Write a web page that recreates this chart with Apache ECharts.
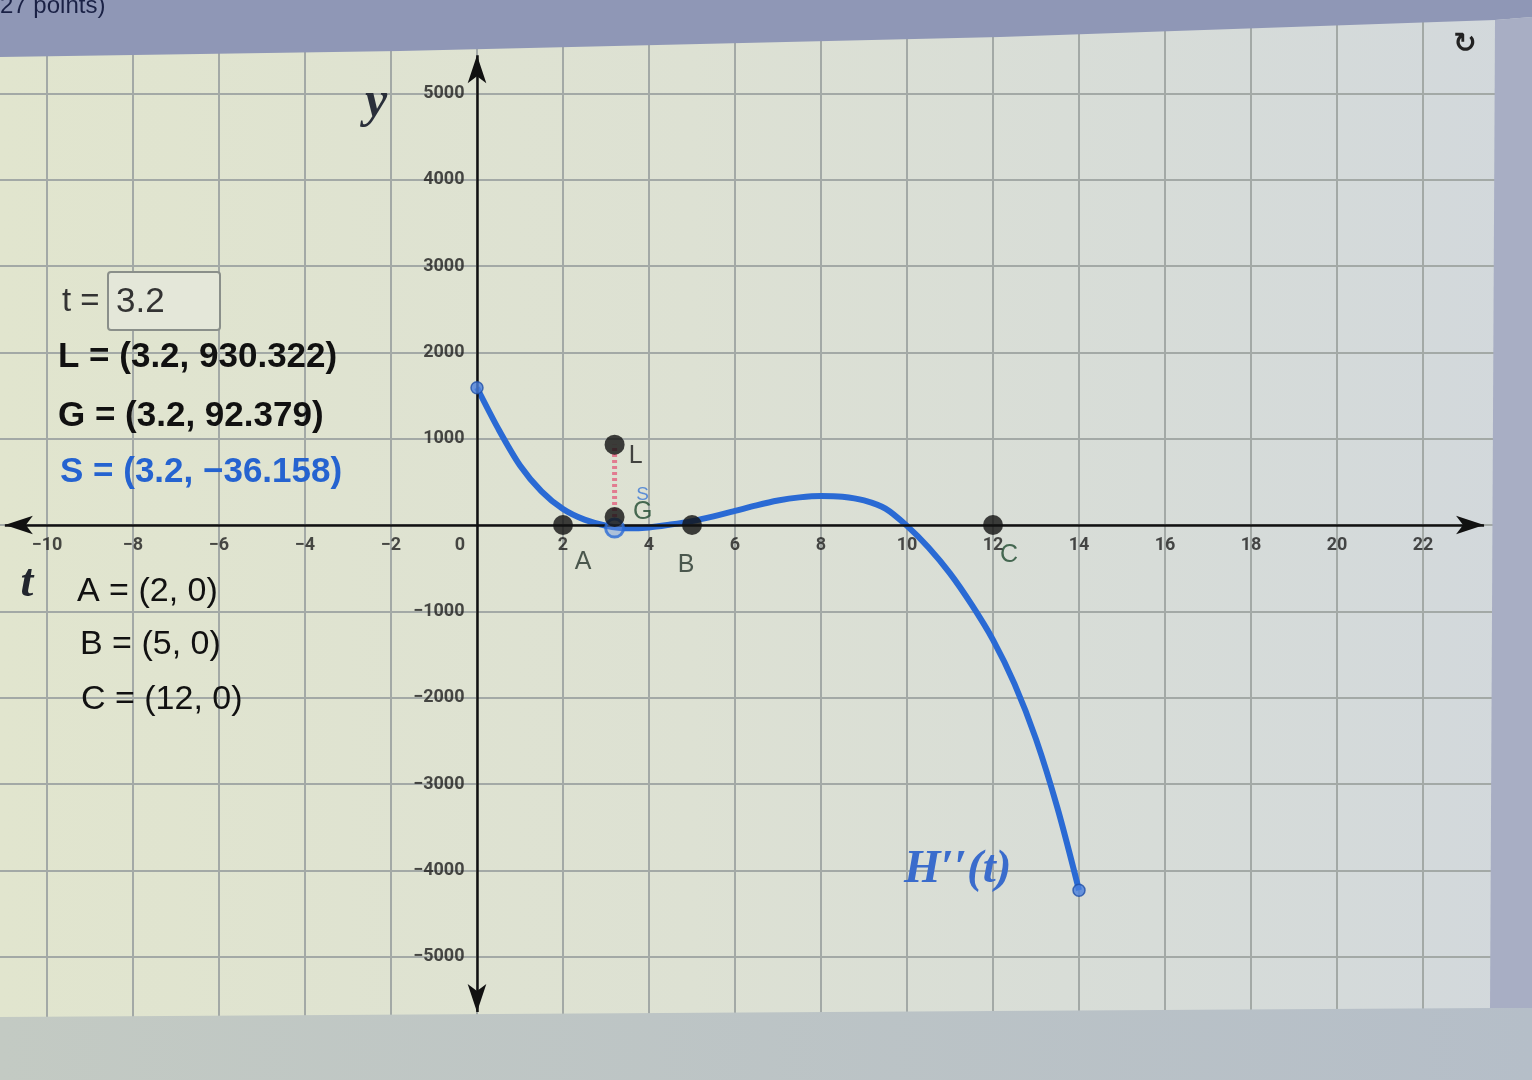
<!DOCTYPE html>
<html>
<head>
<meta charset="utf-8">
<script src="https://cdn.jsdelivr.net/npm/echarts@6/dist/echarts.min.js"></script>
<style>
html,body{margin:0;padding:0;background:#b9c1c6;}
#c{width:1532px;height:1080px;}
</style>
</head>
<body>
<div id="c"></div>
<script>
// ---------- data ----------
const xTickMin = -12, xTickMax = 24, xTickStep = 2;
const yTickMin = -6000, yTickMax = 6000, yTickStep = 1000;

const xTickLabels = [-10, -8, -6, -4, -2, 0, 2, 4, 6, 8, 10, 12, 14, 16, 18, 20, 22];
const yTickLabels = [-5000, -4000, -3000, -2000, -1000, 1000, 2000, 3000, 4000, 5000];

const curveT = [0, 0.5, 1, 1.5, 2, 2.5, 3, 3.5, 4, 4.5, 5, 5.5, 6, 6.5, 7, 7.5, 8, 8.5, 9, 9.5, 10, 10.5, 11, 11.5, 12, 12.5, 13, 13.5, 14];
const curveY = [1590, 1110, 690, 390, 185, 62, -8, -38, -28, 5, 45, 100, 163, 228, 283, 320, 337, 328, 285, 190, -10, -260, -560, -920, -1330, -1840, -2480, -3280, -4230];

const pointNames = ['A', 'B', 'C'];
const pointT = [2, 5, 12];
const pointY = [0, 0, 0];

const sliderT = 3.2;
const valueL = 930.322;
const valueG = 92.379;
const valueS = -36.158;

const axisExtentT = [-10.98, 23.42];
const axisExtentY = [-5640, 5440];

// ---------- helpers ----------
const minus = v => (v < 0 ? '\u2212' + Math.abs(v) : String(v));
const sans = '"Liberation Sans", Arial, sans-serif';
const serif = '"Liberation Serif", "DejaVu Serif", serif';
const tickFont = 'Roboto, "Liberation Sans", sans-serif';

const labelOffsets = { A: [20, 37], B: [-6, 40], C: [16, 30], L: [21, 11], G: [28, -5], S: [28, -33] };
const labelColors = { A: '#26342c', B: '#26342c', C: '#1f4a30', L: '#1a1a1a', G: '#1f4a30', S: '#3b78d6' };

const blackPts = pointNames.map((n, i) => ({ name: n, value: [pointT[i], pointY[i]] }))
  .concat([{ name: 'L', value: [sliderT, valueL] }, { name: 'G', value: [sliderT, valueG] }])
  .map(d => Object.assign(d, { label: { offset: labelOffsets[d.name], color: labelColors[d.name] } }));

const curveData = curveT.map((t, i) => [t, curveY[i]]);
const endPts = [curveData[0], curveData[curveData.length - 1]];

const xTickData = xTickLabels.map(v => ({ value: [v, 0], name: minus(v), label: v === 0 ? { offset: [-17, 0] } : {} }));
const yTickData = yTickLabels.map(v => ({ value: [0, v], name: minus(v) }));

const tickLabelStyle = { show: true, formatter: '{b}', fontSize: 18, fontWeight: 'bold', fontFamily: tickFont, color: '#1e1e1e' };

const chart = echarts.init(document.getElementById('c'), null, { renderer: 'canvas' });

const option = {
  animation: false,
  backgroundColor: {
    type: 'linear', x: 0, y: 0, x2: 1, y2: 0,
    colorStops: [
      { offset: 0, color: '#e1e5ce' },
      { offset: 0.45, color: '#dde1d3' },
      { offset: 1, color: '#d2d8dc' }
    ]
  },
  grid: { left: -39, right: 23, top: 7, bottom: 37, containLabel: false, outerBoundsMode: 'none' },
  xAxis: {
    type: 'value', min: xTickMin, max: xTickMax, interval: xTickStep,
    axisLine: { show: false },
    axisTick: { show: false },
    axisLabel: { show: false },
    splitLine: { show: true, lineStyle: { color: '#a3a9a6', width: 2 } }
  },
  yAxis: {
    type: 'value', min: yTickMin, max: yTickMax, interval: yTickStep,
    axisLine: { show: false },
    axisTick: { show: false },
    axisLabel: { show: false },
    splitLine: { show: true, lineStyle: { color: '#a3a9a6', width: 2 } }
  },
  series: [
    {
      type: 'line', data: [], z: 1, silent: true,
      markLine: {
        silent: true, animation: false,
        symbol: ['arrow', 'arrow'], symbolSize: [14, 28],
        label: { show: false },
        lineStyle: { color: '#111', width: 2.5, type: 'solid' },
        emphasis: { disabled: true },
        data: [
          [{ coord: [axisExtentT[0], 0] }, { coord: [axisExtentT[1], 0] }],
          [{ coord: [0, axisExtentY[0]] }, { coord: [0, axisExtentY[1]] }]
        ]
      }
    },
    {
      type: 'scatter', data: xTickData, symbol: 'circle', symbolSize: 1, z: 2, silent: true,
      itemStyle: { color: 'rgba(0,0,0,0)' },
      label: Object.assign({ position: 'bottom', distance: 11 }, tickLabelStyle)
    },
    {
      type: 'scatter', data: yTickData, symbol: 'circle', symbolSize: 1, z: 2, silent: true,
      itemStyle: { color: 'rgba(0,0,0,0)' },
      label: Object.assign({ position: 'left', distance: 12 }, tickLabelStyle)
    },
    {
      type: 'line', data: curveData, smooth: 0.3, symbol: 'none', z: 3, silent: true,
      lineStyle: { color: '#2a6ad4', width: 6 }
    },
    {
      type: 'line', data: [[sliderT, valueG], [sliderT, valueL]], symbol: 'none', z: 4, silent: true,
      lineStyle: { color: '#e27b90', width: 5, type: [3, 3] }
    },
    {
      type: 'scatter', data: [{ name: 'S', value: [sliderT, valueS], label: { offset: labelOffsets.S, color: labelColors.S } }],
      symbolSize: 18, z: 5, silent: true,
      itemStyle: { color: 'rgba(110,150,225,0.55)', borderColor: '#2a6ad4', borderWidth: 3 },
      label: { show: true, position: 'inside', formatter: '{b}', fontSize: 19, fontFamily: sans }
    },
    {
      type: 'scatter', data: blackPts, symbolSize: 20, z: 6, silent: true,
      itemStyle: { color: '#111' },
      label: { show: true, position: 'inside', formatter: '{b}', fontSize: 25, fontFamily: sans }
    },
    {
      type: 'scatter', data: endPts, symbolSize: 12, z: 6, silent: true,
      itemStyle: { color: '#4a80dd', borderColor: '#1f4fa8', borderWidth: 1.5 }
    }
  ],
  graphic: [
    // bezel / screen frame
    { type: 'polygon', z: 100, silent: true, shape: { points: [[0, 0], [1532, 0], [1532, 17], [1495, 20], [1000, 37], [400, 51], [0, 57]] }, style: { fill: '#8f97b6' } },
    { type: 'polygon', z: 100, silent: true, shape: { points: [[1495, 20], [1532, 17], [1532, 1010], [1490, 1009]] }, style: { fill: '#a8aec4' } },
    { type: 'polygon', z: 100, silent: true, shape: { points: [[0, 1017], [1490, 1008], [1532, 1008], [1532, 1080], [0, 1080]] },
      style: { fill: { type: 'linear', x: 0, y: 0, x2: 1, y2: 0, colorStops: [{ offset: 0, color: '#c3cac3' }, { offset: 1, color: '#b5bec8' }] } } },
    { type: 'text', z: 101, silent: true, left: 0, top: -6, style: { text: '27 points)', font: '24px ' + sans, fill: '#1a2145' } },
    // refresh icon
    { type: 'text', z: 101, silent: true, x: 1465, y: 45, style: { text: '\u21BB', font: 'bold 28px "DejaVu Sans", sans-serif', fill: '#222', align: 'center', verticalAlign: 'middle' } },
    // axis names
    { type: 'text', z: 101, silent: true, x: 376, y: 103, style: { text: 'y', font: 'italic bold 50px ' + serif, fill: '#2a2f3a', align: 'center', verticalAlign: 'middle' } },
    { type: 'text', z: 101, silent: true, x: 27, y: 584, style: { text: 't', font: 'italic bold 46px ' + serif, fill: '#22262e', align: 'center', verticalAlign: 'middle' } },
    // function label
    { type: 'text', z: 101, silent: true, x: 904, y: 870, style: { text: 'H\u2032\u2032(t)', font: 'italic bold 47px ' + serif, fill: '#3a6ccc', verticalAlign: 'middle' } },
    // slider input
    { type: 'text', z: 101, silent: true, x: 62, y: 302, style: { text: 't =', font: '33px ' + sans, fill: '#333', verticalAlign: 'middle' } },
    { type: 'rect', z: 100, silent: true, shape: { x: 108, y: 272, width: 112, height: 58, r: 3 }, style: { fill: '#e4e7d9', stroke: '#8a8f8a', lineWidth: 2 } },
    { type: 'text', z: 101, silent: true, x: 116, y: 302, style: { text: String(sliderT), font: '35px ' + sans, fill: '#333', verticalAlign: 'middle' } },
    // value readouts
    { type: 'text', z: 101, silent: true, x: 58, y: 357, style: { text: 'L = (' + sliderT + ', ' + valueL + ')', font: 'bold 35px ' + sans, fill: '#111', verticalAlign: 'middle' } },
    { type: 'text', z: 101, silent: true, x: 58, y: 416, style: { text: 'G = (' + sliderT + ', ' + valueG + ')', font: 'bold 35px ' + sans, fill: '#111', verticalAlign: 'middle' } },
    { type: 'text', z: 101, silent: true, x: 60, y: 472, style: { text: 'S = (' + sliderT + ', ' + minus(valueS) + ')', font: 'bold 35px ' + sans, fill: '#2563d0', verticalAlign: 'middle' } },
    { type: 'text', z: 101, silent: true, x: 77, y: 592, style: { text: pointNames[0] + ' = (' + pointT[0] + ', ' + pointY[0] + ')', font: '34px ' + sans, fill: '#111', verticalAlign: 'middle' } },
    { type: 'text', z: 101, silent: true, x: 80, y: 645, style: { text: pointNames[1] + ' = (' + pointT[1] + ', ' + pointY[1] + ')', font: '34px ' + sans, fill: '#111', verticalAlign: 'middle' } },
    { type: 'text', z: 101, silent: true, x: 81, y: 700, style: { text: pointNames[2] + ' = (' + pointT[2] + ', ' + pointY[2] + ')', font: '34px ' + sans, fill: '#111', verticalAlign: 'middle' } }
  ]
};

chart.setOption(option);
</script>
</body>
</html>
